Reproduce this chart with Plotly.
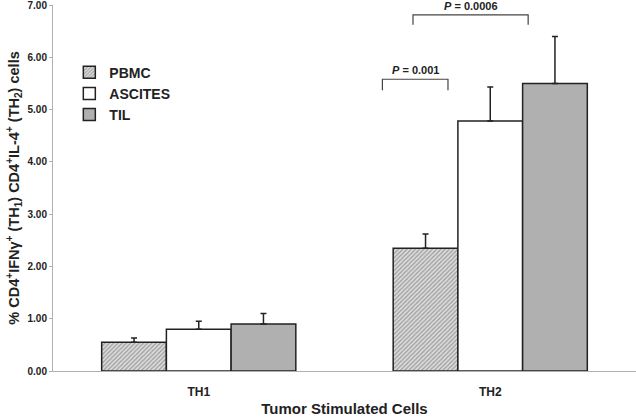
import plotly.graph_objects as go

# data
groups = ["TH1", "TH2"]
pbmc = [0.55, 2.35]
pbmc_err = [0.08, 0.27]
ascites = [0.80, 4.78]
ascites_err = [0.15, 0.65]
til = [0.90, 5.50]
til_err = [0.20, 0.90]
y_ticks = [0, 1, 2, 3, 4, 5, 6, 7]

# significance brackets: (x0, x1, y_top, y_leg, label)
brackets = [(0.63, 0.855, 5.58, 5.37, "<i>P</i> = 0.001"),
            (0.735, 1.13, 6.81, 6.62, "<i>P</i> = 0.0006")]

ink = '#222222'
axis_col = '#b0b0b0'
font_fam = 'Liberation Sans, Arial, sans-serif'

fig = go.Figure()
fig.add_trace(go.Bar(x=groups, y=pbmc, name="<b>PBMC</b>",
                     marker=dict(color='#dcdcdc',
                                 line=dict(color=ink, width=1.5),
                                 pattern=dict(shape='/', fgcolor='#5a5a5a',
                                              bgcolor='#dcdcdc', size=3,
                                              solidity=0.4)),
                     error_y=dict(type='data', array=pbmc_err, symmetric=False,
                                  arrayminus=[0, 0], color=ink, thickness=1.5, width=3)))
fig.add_trace(go.Bar(x=groups, y=ascites, name="<b>ASCITES</b>",
                     marker=dict(color='white', line=dict(color=ink, width=1.5)),
                     error_y=dict(type='data', array=ascites_err, symmetric=False,
                                  arrayminus=[0, 0], color=ink, thickness=1.5, width=3)))
fig.add_trace(go.Bar(x=groups, y=til, name="<b>TIL</b>",
                     marker=dict(color='#b0b0b0', line=dict(color=ink, width=1.5)),
                     error_y=dict(type='data', array=til_err, symmetric=False,
                                  arrayminus=[0, 0], color=ink, thickness=1.5, width=3)))

for x0, x1, ytop, yleg, label in brackets:
    fig.add_shape(type='path', xref='x', yref='y',
                  path=f"M {x0},{yleg} L {x0},{ytop} L {x1},{ytop} L {x1},{yleg}",
                  line=dict(color='#444444', width=1.2))
    fig.add_annotation(x=(x0 + x1) / 2, y=ytop, xref='x', yref='y',
                       text=f"<b>{label}</b>", showarrow=False, yanchor='bottom',
                       yshift=1, font=dict(size=11, color=ink, family=font_fam))

fig.update_layout(width=636, height=419,
                  margin=dict(l=53, r=0, t=5, b=48),
                  plot_bgcolor='white', paper_bgcolor='white',
                  barmode='group', bargap=0.334, bargroupgap=0,
                  font=dict(family=font_fam, color=ink),
                  showlegend=True,
                  legend=dict(x=0.028, y=0.859, xanchor='left', yanchor='top',
                              font=dict(size=14, color=ink),
                              bgcolor='rgba(0,0,0,0)', itemwidth=30,
                              tracegroupgap=0))

fig.update_xaxes(type='category', showline=True, linecolor=axis_col, linewidth=1,
                 showgrid=False, ticks='', range=[-0.5, 1.5], automargin=False,
                 tickfont=dict(size=12), ticklabelstandoff=10,
                 tickvals=groups, ticktext=[f"<b>{g}</b>" for g in groups],
                 title=dict(text="<b>Tumor Stimulated Cells</b>",
                            font=dict(size=15), standoff=5))
fig.update_yaxes(range=[0, 7.0001], showline=True, linecolor=axis_col, linewidth=1,
                 showgrid=False, zeroline=False, ticks='outside', ticklen=3,
                 tickcolor=axis_col, tickvals=y_ticks, automargin=False,
                 ticklabeloverflow='allow',
                 ticktext=[f"<b>{v:.2f}</b>" for v in y_ticks],
                 tickfont=dict(size=10),
                 title=dict(text="<b>% CD4<sup>+</sup>IFNγ<sup>+</sup> (TH<sub>1</sub>) "
                                 "CD4<sup>+</sup>IL-4<sup>+</sup> (TH<sub>2</sub>) cells</b>",
                            font=dict(size=14.5), standoff=4))

# the page body has a default 8px margin; drop it so the figure sits at 0,0
fig.write_html("out.html", config={'displayModeBar': False},
               post_script="document.body.style.margin='0';")
